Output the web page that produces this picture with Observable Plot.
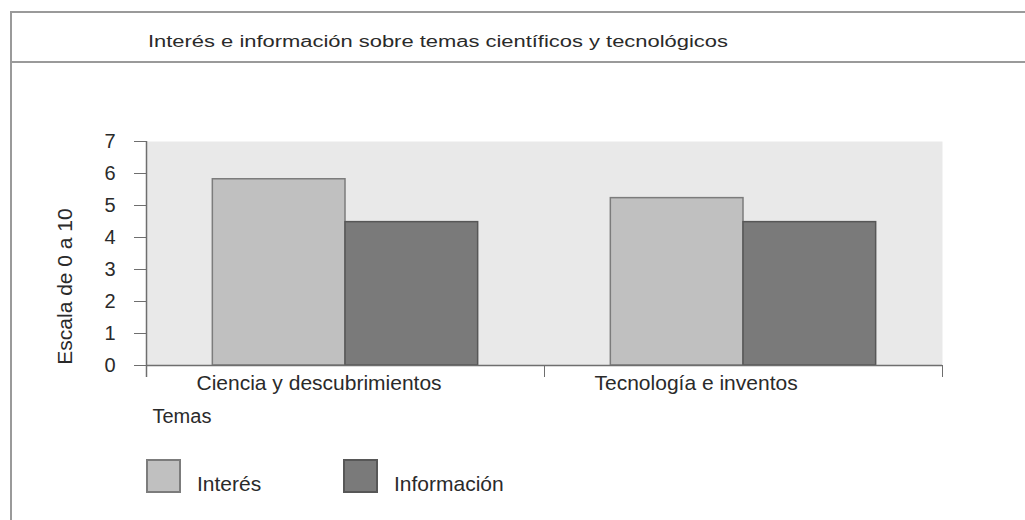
<!DOCTYPE html>
<html>
<head>
<meta charset="utf-8">
<script src="https://cdn.jsdelivr.net/npm/d3@7"></script>
<script src="https://cdn.jsdelivr.net/npm/@observablehq/plot@0.6"></script>
<style>
  html, body { margin: 0; padding: 0; background: #fff; }
  body { font-family: "Liberation Sans", Arial, Helvetica, sans-serif; color: #2a2a2a; }
  #wrap { position: relative; width: 1025px; height: 520px; overflow: hidden; }
  #box { position: absolute; left: 10px; top: 11px; right: -5px; bottom: -5px;
         border-left: 2px solid #9a9a9a; border-top: 2px solid #9a9a9a; }
  #title { position: absolute; left: 12px; right: 0; top: 13px; height: 48px;
           border-bottom: 2px solid #9a9a9a; }
  #title span { position: absolute; left: 136px; top: 20px; font-size: 16px; white-space: nowrap;
                transform: scaleX(1.37); transform-origin: left center; line-height: 18px; }
  #chart { position: absolute; left: 0; top: 64px; }
  #legend { position: absolute; left: 0; top: 459px; width: 1025px; height: 40px; }
  .sw { position: absolute; top: 0; width: 31px; height: 30px; border: 2px solid #888; }
  .lb { position: absolute; top: 13px; font-size: 21px; line-height: 23px; white-space: nowrap; }
</style>
</head>
<body>
<div id="wrap">
  <div id="box"></div>
  <div id="title"><span id="titleText"></span></div>
  <div id="chart"></div>
  <div id="legend"></div>
</div>
<script>
const titleText = "Interés e información sobre temas científicos y tecnológicos";
const categories = ["Ciencia y descubrimientos", "Tecnología e inventos"];
const series = ["Interés", "Información"];
const interes = [5.82, 5.23];
const informacion = [4.48, 4.48];
const yTicks = [0, 1, 2, 3, 4, 5, 6, 7];
const yLabel = "Escala de 0 a 10";
const xTitle = "Temas";
const seriesColors = ["#c0c0c0", "#7a7a7a"];
const seriesStrokes = ["#7c7c7c", "#575757"];

document.getElementById("titleText").textContent = titleText;

const values = [interes, informacion];
const rows = categories.flatMap((cat, i) =>
  series.map((serie, j) => ({cat, i, j, serie, value: values[j][i]}))
);

const axisColor = "#6e6e6e";
const textColor = "#2a2a2a";
const chart = Plot.plot({
  width: 1025,
  height: 376,
  marginTop: 77,
  marginBottom: 75,
  marginLeft: 146,
  marginRight: 83,
  style: {fontFamily: '"Liberation Sans", Arial, Helvetica, sans-serif', fontSize: "20px", color: textColor, background: "transparent"},
  x: {type: "linear", domain: [0, categories.length]},
  y: {domain: [0, 7]},
  color: {domain: series, range: seriesColors},
  marks: [
    Plot.frame({fill: "#e9e9e9", stroke: null}),
    Plot.rect(rows, {
      x1: d => d.i + 1/6 + d.j/3,
      x2: d => d.i + 1/2 + d.j/3,
      y1: () => 0,
      y2: "value",
      fill: "serie",
      stroke: d => seriesStrokes[d.j],
      strokeWidth: 1.5
    }),
    Plot.axisY({ticks: yTicks, tickSize: 12, tickPadding: 19, tickFormat: d3.format("d"), label: null, stroke: axisColor, fontSize: 20, fill: textColor}),
    Plot.axisX({ticks: d3.range(categories.length + 1), tickSize: 12, tickFormat: () => "", label: null, stroke: axisColor}),
    Plot.ruleY([0], {stroke: axisColor, strokeWidth: 1.5}),
    Plot.ruleX([0], {stroke: axisColor, strokeWidth: 1.5, insetBottom: -12}),
    Plot.text(categories, {x: (d, i) => i, frameAnchor: "bottom", dx: 50, dy: 24, textAnchor: "start", fontSize: 21, fill: textColor}),
    Plot.text([xTitle], {frameAnchor: "bottom-left", dx: 6, dy: 57, textAnchor: "start", fontSize: 20, fill: textColor}),
    Plot.text([yLabel], {frameAnchor: "left", dx: -81, dy: 33, rotate: -90, textAnchor: "middle", fontSize: 21, fill: textColor})
  ]
});
document.getElementById("chart").appendChild(chart);

const legend = document.getElementById("legend");
const swX = [146, 343];
const lbX = [197, 394];
series.forEach((s, j) => {
  const sw = document.createElement("div");
  sw.className = "sw";
  sw.style.left = swX[j] + "px";
  sw.style.background = seriesColors[j];
  sw.style.borderColor = seriesStrokes[j];
  legend.appendChild(sw);
  const lb = document.createElement("div");
  lb.className = "lb";
  lb.style.left = lbX[j] + "px";
  lb.textContent = s;
  legend.appendChild(lb);
});
</script>
</body>
</html>
